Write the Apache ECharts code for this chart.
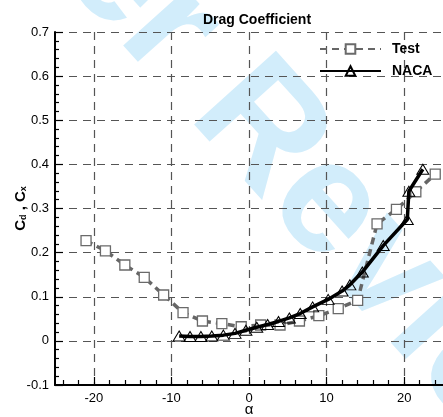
<!DOCTYPE html>
<html>
<head>
<meta charset="utf-8">
<script src="https://cdn.jsdelivr.net/npm/echarts@6/dist/echarts.min.js"></script>
<style>
html,body{margin:0;padding:0;background:#fff;}
#main{width:443px;height:417px;}
</style>
</head>
<body>
<div id="main"></div>
<script>
// ---- data ----
var testAlpha = [-21, -18.5, -16, -13.5, -11, -8.5, -6, -3.5, -1, 1.5, 4, 6.5, 9, 11.5, 14, 16.5, 19, 21.5, 24];
var testCd    = [0.227, 0.204, 0.172, 0.144, 0.104, 0.064, 0.045, 0.039, 0.032, 0.036, 0.036, 0.045, 0.057, 0.073, 0.092, 0.265, 0.298, 0.338, 0.378];
var nacaAlpha = [-9, -7.6, -6.2, -4.8, -3.3, -1.8, -0.4, 1.0, 2.4, 3.8, 5.2, 6.6, 8.2, 10.2, 12.0, 13.0, 14.6, 17.3, 20.4, 20.6, 22.4];
var nacaCx    = [0.011, 0.010, 0.010, 0.011, 0.013, 0.017, 0.024, 0.031, 0.037, 0.044, 0.052, 0.062, 0.077, 0.094, 0.113, 0.127, 0.156, 0.216, 0.275, 0.339, 0.389];
var xMajorTicks = [-20, -10, 0, 10, 20];
var xMinorTicks = [-24, -22, -18, -16, -14, -12, -8, -6, -4, -2, 2, 4, 6, 8, 12, 14, 16, 18, 22, 24];
var seriesNames = ['Test', 'NACA'];
var titleText = 'Drag Coefficient';

function zip(a, b) { return a.map(function (v, i) { return [v, b[i]]; }); }

var FONT = 'Liberation Sans, Arial, Helvetica, sans-serif';
var gridLine = { show: true, lineStyle: { color: '#555', width: 1.2, type: [8, 6] } };

var chart = echarts.init(document.getElementById('main'), null, { renderer: 'canvas' });
chart.setOption({
  animation: false,
  backgroundColor: '#fff',
  title: {
    text: titleText, left: 252, top: 8, textAlign: 'center',
    textStyle: { fontFamily: FONT, fontWeight: 'bold', fontSize: 14, color: '#000' }
  },
  graphic: [{
    type: 'text', x: -42, y: -204, rotation: -0.838, z: -10, silent: true,
    style: { text: 'Peer Review', font: 'bold 160px ' + FONT, fill: '#d2edfb', textAlign: 'left', textVerticalAlign: 'middle' }
  }],
  legend: {
    data: seriesNames, orient: 'vertical', left: 319, top: 42, padding: 0,
    itemWidth: 61, itemHeight: 12, itemGap: 8, selectedMode: false,
    textStyle: { fontFamily: FONT, fontWeight: 'bold', fontSize: 14, color: '#000', padding: [0, 0, 0, 6] }
  },
  grid: { left: 55, right: 0, top: 32, bottom: 32, containLabel: false, outerBoundsMode: 'none' },
  xAxis: [{
    type: 'value', min: -25, max: 25, position: 'bottom',
    name: 'α', nameLocation: 'middle', nameGap: 17, nameMoveOverlap: false,
    nameTextStyle: { fontFamily: FONT, fontSize: 15, color: '#000' },
    axisLine: { show: true, onZero: false, lineStyle: { color: '#000', width: 2 } },
    axisTick: { show: true, inside: true, length: 8, customValues: xMajorTicks, lineStyle: { color: '#000', width: 1.2 } },
    axisLabel: { show: true, customValues: xMajorTicks, margin: 7, fontFamily: FONT, fontSize: 13, color: '#000' },
    splitLine: gridLine
  }, {
    show: true, type: 'value', min: -25, max: 25, position: 'bottom', offset: 0,
    axisLine: { show: true, onZero: false, lineStyle: { color: 'rgba(0,0,0,0)', width: 1 } },
    axisTick: { show: true, inside: true, length: 5, customValues: xMinorTicks, lineStyle: { color: '#000', width: 1.2 } },
    axisLabel: { show: false },
    splitLine: { show: false }
  }],
  yAxis: {
    type: 'value', min: -0.1, max: 0.7, interval: 0.1,
    name: '{m|C}{s|d}{m| , C}{s|x}', nameLocation: 'middle', nameGap: 27, nameRotate: 90, nameMoveOverlap: false,
    nameTextStyle: {
      rich: {
        m: { fontFamily: FONT, fontWeight: 'bold', fontSize: 15, color: '#000', lineHeight: 15 },
        s: { fontFamily: FONT, fontWeight: 'bold', fontSize: 9, color: '#000', lineHeight: 9, padding: [9, 0, 0, 0], verticalAlign: 'bottom' }
      }
    },
    axisLine: { show: true, onZero: false, lineStyle: { color: '#000', width: 2 } },
    axisTick: { show: true, inside: true, length: 8, lineStyle: { color: '#000', width: 1.2 } },
    minorTick: { show: true, splitNumber: 5, length: 4, lineStyle: { color: '#000', width: 1.2 } },
    axisLabel: {
      margin: 6, fontFamily: FONT, fontSize: 13, color: '#000',
      formatter: function (v) { return String(Math.round(v * 10) / 10); }
    },
    splitLine: gridLine
  },
  series: [{
    name: seriesNames[0], type: 'line', z: 3,
    data: zip(testAlpha, testCd),
    symbol: 'rect', symbolSize: 10,
    itemStyle: { color: '#fff', borderColor: '#6a6a6a', borderWidth: 1.3 },
    lineStyle: { color: '#666', width: 3.5, type: [7, 5] }
  }, {
    name: seriesNames[1], type: 'line', z: 4,
    data: zip(nacaAlpha, nacaCx),
    symbol: 'triangle', symbolSize: [12, 10],
    itemStyle: { color: 'rgba(255,255,255,0)', borderColor: '#000', borderWidth: 1 },
    lineStyle: { color: '#000', width: 3.5 }
  }]
});
</script>
</body>
</html>
